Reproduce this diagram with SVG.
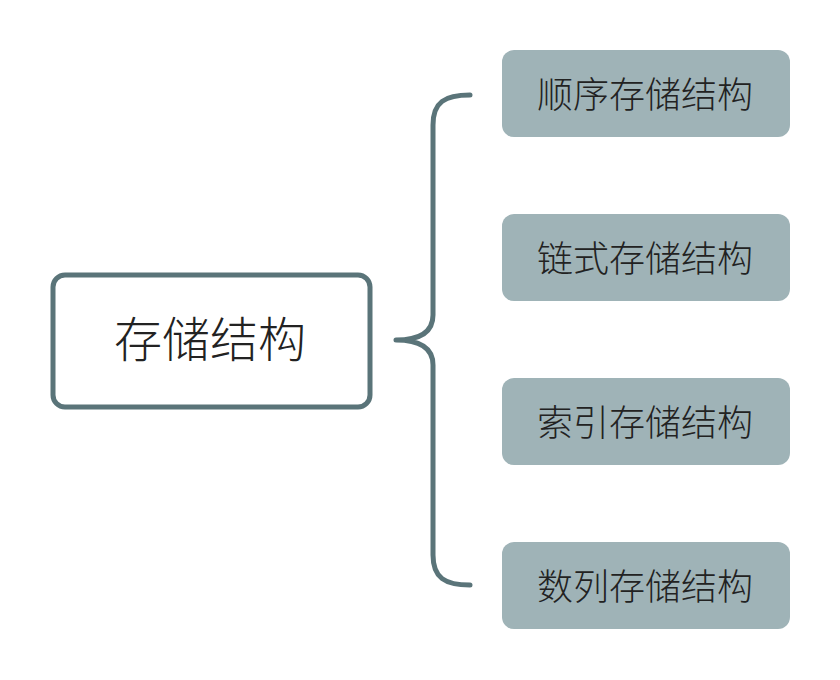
<svg xmlns="http://www.w3.org/2000/svg" width="840" height="680" viewBox="0 0 840 680">
<style>
.child rect{fill:#9fb3b7;}
.child text{font-family:"Noto Sans CJK SC",sans-serif;font-size:36px;font-weight:300;fill:#222;text-anchor:middle;}
.main rect{fill:#fff;stroke:#5a7479;stroke-width:5;}
.main text{font-family:"Noto Sans CJK SC",sans-serif;font-size:48px;font-weight:300;fill:#222;text-anchor:middle;}
.brace{fill:none;stroke:#5a7479;stroke-width:5;stroke-linecap:round;stroke-linejoin:round;}
</style>
<rect width="840" height="680" fill="#fff"/>
<g id="root" class="main">
<rect x="53" y="275" width="317" height="132" rx="12"/>
<text x="210" y="357">存储结构</text>
</g>
<g id="connectors">
<path class="brace" d="M470 95 C445 95 433 102 433 125 L433 315 C433 332 420 340 396 340 C420 340 433 348 433 365 L433 555 C433 578 445 585 470 585"/>
</g>
<g id="n1" class="child">
<rect x="502" y="50" width="288" height="87" rx="12"/>
<text x="645" y="108">顺序存储结构</text>
</g>
<g id="n2" class="child">
<rect x="502" y="214" width="288" height="87" rx="12"/>
<text x="645" y="272">链式存储结构</text>
</g>
<g id="n3" class="child">
<rect x="502" y="378" width="288" height="87" rx="12"/>
<text x="645" y="436">索引存储结构</text>
</g>
<g id="n4" class="child">
<rect x="502" y="542" width="288" height="87" rx="12"/>
<text x="645" y="600">数列存储结构</text>
</g>
</svg>
